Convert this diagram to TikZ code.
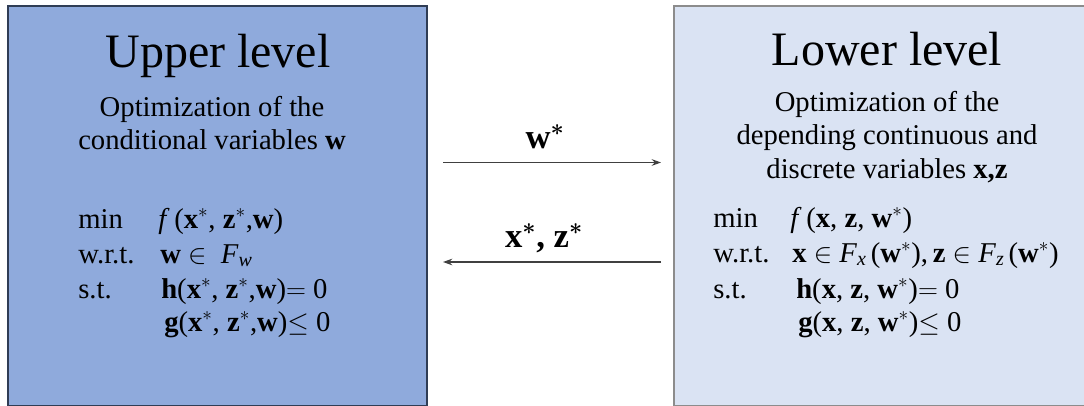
\documentclass[tikz,border=0pt]{standalone}
\usepackage{fontspec}
\setmainfont{Liberation Serif}
\usetikzlibrary{arrows.meta}
\definecolor{upfill}{HTML}{8FAADC}
\definecolor{lofill}{HTML}{DAE3F3}
\definecolor{upline}{HTML}{2F3D55}
\definecolor{loline}{HTML}{8C8C8C}
\definecolor{arrowcol}{HTML}{404040}
\newcommand{\bst}{{\boldmath$^{*}$}}
\newcommand{\sbs}[1]{\raisebox{-0.12em}{\fontsize{15}{15}\selectfont\textit{#1}}}
\begin{document}
\begin{tikzpicture}[x=0.75pt,y=-0.75pt,
  txt/.style={anchor=base west,inner sep=0pt,font=\fontsize{21.5}{25}\selectfont},
  ctxt/.style={anchor=base,inner sep=0pt,font=\fontsize{21.5}{25}\selectfont},
  title/.style={anchor=base,inner sep=0pt,font=\fontsize{36}{40}\selectfont},
  lab/.style={anchor=base,inner sep=0pt,font=\fontsize{26}{30}\selectfont\bfseries},
  conn/.style={draw=arrowcol,line width=0.9pt,-{Stealth[length=7pt,width=5pt]}}]
\useasboundingbox (0,0) rectangle (1084,406);
\clip (0,0) rectangle (1084,406);
\node[draw=upline,fill=upfill,line width=1.2pt,inner sep=0pt,minimum width=314.25pt,minimum height=299.6pt] (upper) at (217.5,205.75) {};
\node[draw=loline,fill=lofill,line width=1.1pt,inner sep=0pt,minimum width=312pt,minimum height=299.6pt] (lower) at (882,205.75) {};
% upper level
\node[title] (ut) at (218,68) {Upper level};
\node[ctxt] (ud1) at (212,117) {Optimization of the};
\node[ctxt] (ud2) at (212,150) {conditional variables \textbf{w}};
\node[txt] (umin) at (78,228) {min};
\node[txt] (uf) at (158,228) {\textit{f}\,(\textbf{x}$^*$, \textbf{z}$^*$,\textbf{w})};
\node[txt] (uwrt) at (78,263) {w.r.t.};
\node[txt] (uw) at (160,263) {\textbf{w} $\in$\ \ \textit{F}\sbs{w}};
\node[txt] (ust) at (78,298) {s.t.};
\node[txt] (uh) at (161,298) {\textbf{h}(\textbf{x}$^*$, \textbf{z}$^*$,\textbf{w})$=$ 0};
\node[txt] (ug) at (164,331) {\textbf{g}(\textbf{x}$^*$, \textbf{z}$^*$,\textbf{w})$\leq$ 0};
% lower level
\node[title] (lt) at (887,66) {Lower level};
\node[ctxt] (ld1) at (887,112) {Optimization of the};
\node[ctxt] (ld2) at (887,145) {depending continuous and};
\node[ctxt] (ld3) at (887,178) {discrete variables \textbf{x,z}};
\node[txt] (lmin) at (713,227) {min};
\node[txt] (lf) at (790,227) {\textit{f}\,(\textbf{x}, \textbf{z}, \textbf{w}$^*$)};
\node[txt] (lwrt) at (713,262) {w.r.t.};
\node[txt] (lw) at (792,262) {\textbf{x} $\in$ \textit{F}\sbs{x}\,(\textbf{w}$^*$),\,\textbf{z} $\in$ \textit{F}\sbs{z}\,(\textbf{w}$^*$)};
\node[txt] (lst) at (713,298) {s.t.};
\node[txt] (lh) at (796,298) {\textbf{h}(\textbf{x}, \textbf{z}, \textbf{w}$^*$)$=$ 0};
\node[txt] (lg) at (798,331) {\textbf{g}(\textbf{x}, \textbf{z}, \textbf{w}$^*$)$\leq$ 0};
% arrows
\coordinate (a1s) at (443,162.5);
\coordinate (a1e) at (661,162.5);
\coordinate (a2s) at (661,262);
\coordinate (a2e) at (443,262);
\node[lab] (l1) at (545,148) {w\bst};
\node[lab] (l2) at (544,247) {x\bst, z\bst};
\draw[conn] (a1s) -- (a1e);
\draw[conn] (a2s) -- (a2e);
\end{tikzpicture}
\end{document}
